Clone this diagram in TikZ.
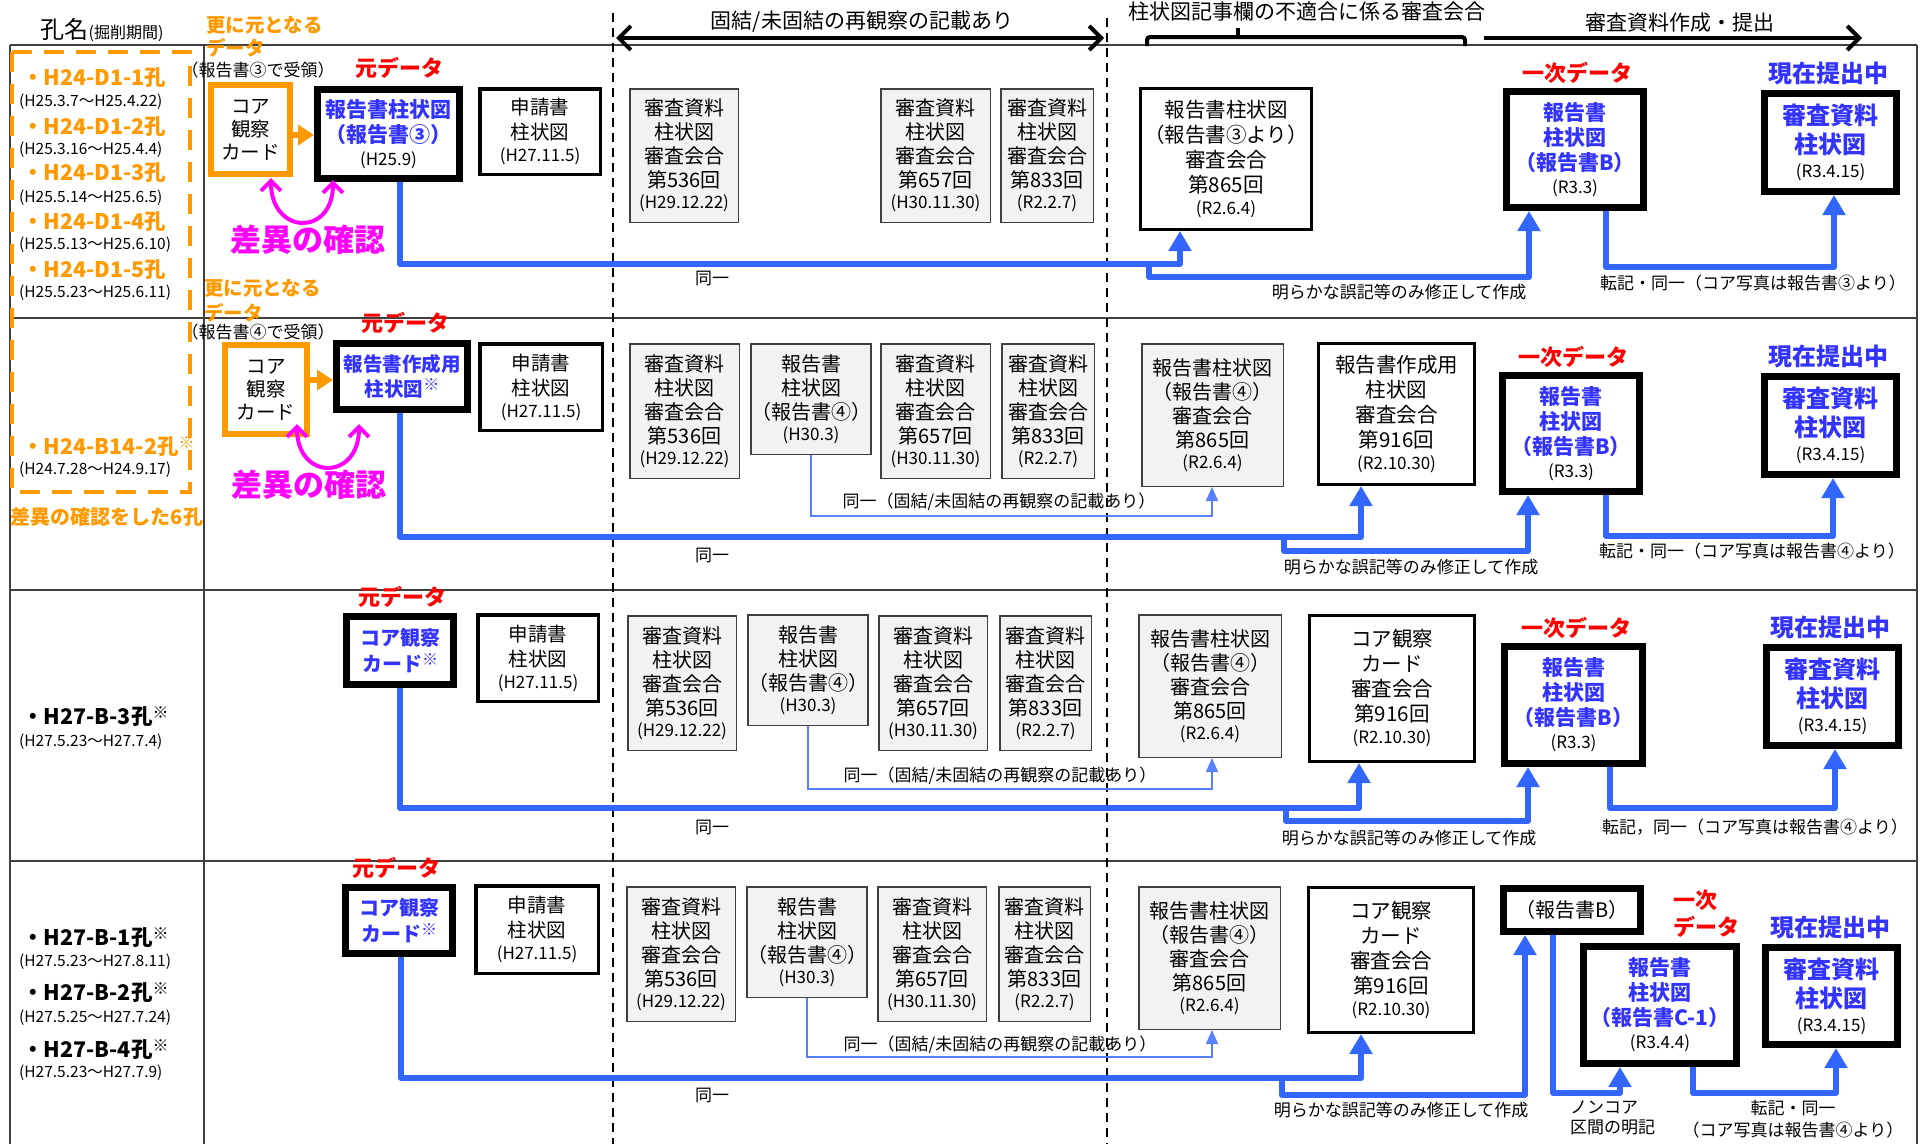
\documentclass[tikz,border=0pt]{standalone}
\usepackage{fontspec}
\setmainfont{Noto Sans CJK JP}
\usetikzlibrary{arrows.meta}
\newcommand\myfs[2]{\fontsize{#1}{#2}\selectfont}
\newcommand\dte[1]{{\mdseries\color{black}\myfs{17}{18}#1}}
\newcommand\kome{{\myfs{16}{16}\raisebox{6pt}{※}}}
\definecolor{orng}{HTML}{FF9900}
\definecolor{btxt}{HTML}{3333FF}
\definecolor{bline}{HTML}{3366FF}
\definecolor{thinb}{HTML}{5580FF}
\definecolor{magc}{HTML}{FF00FF}
\definecolor{gfill}{HTML}{F2F2F2}
\definecolor{tline}{HTML}{404040}
\definecolor{redc}{HTML}{FF0000}
\tikzset{
  tbl/.style={draw=tline, line width=1.5pt},
  vdash/.style={draw=black, line width=2pt, dash pattern=on 9pt off 6pt},
  gbox/.style={draw=black!75, line width=1.5pt, fill=gfill, inner sep=0pt, align=center, font=\myfs{20}{24}},
  wbox/.style={draw=black, line width=3pt, fill=white, inner sep=0pt, align=center, font=\myfs{20.5}{25}},
  abox/.style={draw=black, line width=3.5pt, fill=white, inner sep=0pt, align=center, font=\myfs{19.5}{25}},
  kbox/.style={draw=black, line width=7pt, fill=white, inner sep=0pt, align=center, font=\myfs{21}{25}\bfseries, text=btxt},
  cbox/.style={kbox, font=\myfs{24}{29}\bfseries},
  obox/.style={draw=orng, line width=6pt, fill=white, inner sep=0pt, align=center, font=\myfs{19.5}{23}},
  lbl/.style={inner sep=0pt, font=\myfs{17}{20}},
  redl/.style={inner sep=0pt, text=redc, font=\myfs{22}{24}\bfseries},
  curl/.style={inner sep=0pt, text=btxt, font=\myfs{24}{26}\bfseries},
  orl/.style={inner sep=0pt, text=orng, font=\myfs{19.5}{22}\bfseries, anchor=west},
  recv/.style={inner sep=0pt, font=\myfs{17}{18}},
  sai/.style={inner sep=0pt, text=magc, font=\myfs{31}{33}\bfseries},
  hole/.style={inner sep=0pt, font=\myfs{21.5}{24}\bfseries, anchor=west},
  hdate/.style={inner sep=0pt, font=\myfs{15.5}{17}, anchor=west},
  head/.style={inner sep=0pt, font=\myfs{21}{23}},
  blA/.style={draw=bline, line width=6pt, line join=round, -{Triangle[width=22pt,length=20pt]}},
  blT/.style={draw=thinb, line width=1.5pt, -{Triangle[width=12pt,length=14pt]}},
  oarr/.style={draw=orng, line width=6pt, -{Triangle[width=20pt,length=16pt]}},
  magarr/.style={draw=magc, line width=4pt, {Straight Barb[length=10pt,width=20pt]}-{Straight Barb[length=10pt,width=20pt]}},
  harr/.style={draw=black, line width=4pt},
}
\begin{document}
\begin{tikzpicture}[x=1pt,y=-1pt]
\useasboundingbox (0,0) rectangle (1923,1144);
\fill[white] (0,0) rectangle (1923,1144);

% ---------- table ----------
\draw[tbl] (10,45) -- (1917,45);
\draw[tbl] (10,45) -- (10,1144);
\draw[tbl] (1917,45) -- (1917,1144);
\draw[tbl] (204,45) -- (204,1144);
\draw[tbl] (10,318) -- (1917,318);
\draw[tbl] (10,590) -- (1917,590);
\draw[tbl] (10,861) -- (1917,861);
\draw[vdash] (613,13) -- (613,1144);
\draw[vdash] (1107,18) -- (1107,1144);
\draw[orng, line width=4pt, dash pattern=on 20pt off 12pt] (12,52) rectangle (190,492);

% ---------- header ----------
\node[inner sep=0pt] (hname) at (102,30) {{\myfs{24}{26}孔名}{\myfs{16}{18}(掘削期間)}};
\node[head] (h1) at (862,22) {固結/未固結の再観察の記載あり};
\coordinate (a1l) at (616,38);
\coordinate (a1r) at (1104,38);
\draw[harr, {Straight Barb[length=12pt,width=24pt]}-{Straight Barb[length=12pt,width=24pt]}] (a1l) -- (a1r);
\node[head] (h2) at (1307,12) {柱状図記事欄の不適合に係る審査会合};
\draw[harr, rounded corners=3pt] (1147,46) -- (1147,37) -- (1465,37) -- (1465,46);
\draw[harr] (1238,37) -- (1238,28);
\node[head] (h3) at (1680,23) {審査資料作成・提出};
\coordinate (a2l) at (1484,38);
\coordinate (a2r) at (1862,38);
\draw[harr, -{Straight Barb[length=12pt,width=24pt]}] (a2l) -- (a2r);

% ---------- left column ----------
\node[hole, text=orng] (l1) at (22,78) {・H24-D1-1孔};
\node[hdate] (l1d) at (19,102) {(H25.3.7～H25.4.22)};
\node[hole, text=orng] (l2) at (22,127) {・H24-D1-2孔};
\node[hdate] (l2d) at (19,150) {(H25.3.16～H25.4.4)};
\node[hole, text=orng] (l3) at (22,173) {・H24-D1-3孔};
\node[hdate] (l3d) at (19,198) {(H25.5.14～H25.6.5)};
\node[hole, text=orng] (l4) at (22,222) {・H24-D1-4孔};
\node[hdate] (l4d) at (19,245) {(H25.5.13～H25.6.10)};
\node[hole, text=orng] (l5) at (22,270) {・H24-D1-5孔};
\node[hdate] (l5d) at (19,293) {(H25.5.23～H25.6.11)};
\node[hole, text=orng] (l6) at (22,447) {・H24-B14-2孔\kome};
\node[hdate] (l6d) at (19,470) {(H24.7.28～H24.9.17)};
\node[inner sep=0pt, text=orng, font=\myfs{20}{22}\bfseries] (six) at (107,517) {差異の確認をした6孔};
\node[hole] (l7) at (22,717) {・H27-B-3孔\kome};
\node[hdate] (l7d) at (19,742) {(H27.5.23～H27.7.4)};
\node[hole] (l8) at (22,938) {・H27-B-1孔\kome};
\node[hdate] (l8d) at (19,962) {(H27.5.23～H27.8.11)};
\node[hole] (l9) at (22,993) {・H27-B-2孔\kome};
\node[hdate] (l9d) at (19,1018) {(H27.5.25～H27.7.24)};
\node[hole] (l10) at (22,1050) {・H27-B-4孔\kome};
\node[hdate] (l10d) at (19,1073) {(H27.5.23～H27.7.9)};

% ---------- row 1 ----------
\node[orl] (o1a) at (206,25) {更に元となる};
\node[orl] (o1b) at (206,48) {データ};
\node[recv] (rc1) at (258,70) {（報告書③で受領）};
\node[redl] (m1) at (399,68) {元データ};
\node[obox, minimum width=79pt, minimum height=89pt] (card1) at (250.5,129.5) {コア\\観察\\カード};
\node[kbox, minimum width=142pt, minimum height=89pt] (src1) at (388.5,134) {報告書柱状図\\（報告書③）\\[-2pt]\dte{(H25.9)}};
\node[abox, minimum width=120.5pt, minimum height=85.5pt] (app1) at (540,131.5) {申請書\\柱状図\\[-3pt]\dte{(H27.11.5)}};
\node[gbox, minimum width=108.5pt, minimum height=133.5pt] (g536a) at (684,155.5) {審査資料\\柱状図\\審査会合\\第536回\\[-3pt]\dte{(H29.12.22)}};
\node[gbox, minimum width=109.5pt, minimum height=133.5pt] (g657a) at (935.5,155.5) {審査資料\\柱状図\\審査会合\\第657回\\[-3pt]\dte{(H30.11.30)}};
\node[gbox, minimum width=92.5pt, minimum height=133.5pt] (g833a) at (1047,155.5) {審査資料\\柱状図\\審査会合\\第833回\\[-3pt]\dte{(R2.2.7)}};
\node[wbox, minimum width=171pt, minimum height=141pt] (r865a) at (1226,159) {報告書柱状図\\（報告書③より）\\審査会合\\第865回\\[-3pt]\dte{(R2.6.4)}};
\node[redl] (p1l) at (1577,73) {一次データ};
\node[kbox, minimum width=137pt, minimum height=116pt] (pri1) at (1575,149.5) {報告書\\柱状図\\（報告書B）\\[-2pt]\dte{(R3.3)}};
\node[curl] (c1l) at (1828,73) {現在提出中};
\node[cbox, minimum width=132pt, minimum height=98pt] (cur1) at (1830.5,142.5) {審査資料\\柱状図\\[-5pt]\dte{(R3.4.15)}};
\node[sai] (s1) at (308,240) {差異の確認};

\draw[oarr] (card1.east |- 0,135) -- (src1.west |- 0,135);
\coordinate (mg1a) at (271,178);
\coordinate (mg1b) at (333,180);
\draw[magarr] (mg1a) .. controls +(0,57) and +(0,57) .. (mg1b);

\coordinate (j1) at (1149,264);
\draw[blA] (src1.south -| 400,0) -- (400,264) -| (r865a.south -| 1180,0);
\draw[blA] (j1) -- (1149,277) -| (pri1.south -| 1529,0);
\draw[blA] (pri1.south -| 1606,0) -- (1606,267) -| (cur1.south -| 1834,0);
\node[lbl] (t1a) at (712,278) {同一};
\node[lbl] (t1b) at (1399,292) {明らかな誤記等のみ修正して作成};
\node[lbl] (t1c) at (1753,283) {転記・同一（コア写真は報告書③より）};

% ---------- row 2 ----------
\node[orl] (o2a) at (204,288) {更に元となる};
\node[orl] (o2b) at (204,313) {データ};
\node[recv] (rc2) at (258,332) {（報告書④で受領）};
\node[redl] (m2) at (405,323) {元データ};
\node[obox, minimum width=82pt, minimum height=89pt] (card2) at (266,389.5) {コア\\観察\\カード};
\node[kbox, font=\myfs{19.5}{25}\bfseries, minimum width=131pt, minimum height=66pt] (src2) at (402,376.5) {報告書作成用\\柱状図\kome};
\node[abox, minimum width=122.5pt, minimum height=86.5pt] (app2) at (541,387) {申請書\\柱状図\\[-3pt]\dte{(H27.11.5)}};
\node[gbox, minimum width=109.5pt, minimum height=134.5pt] (g536b) at (684.5,411) {審査資料\\柱状図\\審査会合\\第536回\\[-3pt]\dte{(H29.12.22)}};
\node[gbox, minimum width=118.5pt, minimum height=110.5pt] (rep2) at (811,399) {報告書\\柱状図\\（報告書④）\\[-3pt]\dte{(H30.3)}};
\node[gbox, minimum width=109.5pt, minimum height=134.5pt] (g657b) at (935.5,411) {審査資料\\柱状図\\審査会合\\第657回\\[-3pt]\dte{(H30.11.30)}};
\node[gbox, minimum width=92.5pt, minimum height=134.5pt] (g833b) at (1048,411) {審査資料\\柱状図\\審査会合\\第833回\\[-3pt]\dte{(R2.2.7)}};
\node[gbox, minimum width=141.5pt, minimum height=142.5pt] (r865b) at (1212.5,415) {報告書柱状図\\（報告書④）\\審査会合\\第865回\\[-3pt]\dte{(R2.6.4)}};
\node[wbox, minimum width=156pt, minimum height=141pt] (r916b) at (1396.5,414) {報告書作成用\\柱状図\\審査会合\\第916回\\[-3pt]\dte{(R2.10.30)}};
\node[redl] (p2l) at (1573,357) {一次データ};
\node[kbox, minimum width=137pt, minimum height=116pt] (pri2) at (1571,433.5) {報告書\\柱状図\\（報告書B）\\[-2pt]\dte{(R3.3)}};
\node[curl] (c2l) at (1828,356) {現在提出中};
\node[cbox, minimum width=132pt, minimum height=98pt] (cur2) at (1830.5,425.5) {審査資料\\柱状図\\[-5pt]\dte{(R3.4.15)}};
\node[sai] (s2) at (309,485) {差異の確認};

\draw[oarr] (card2.east |- 0,380) -- (src2.west |- 0,380);
\coordinate (mg2a) at (297,424);
\coordinate (mg2b) at (359,424);
\draw[magarr] (mg2a) .. controls +(0,57) and +(0,57) .. (mg2b);

\draw[blT] (rep2.south) -- (811,516) -| (r865b.south -| 1212,0);
\node[lbl] (t2t) at (999,502) {同一（固結/未固結の再観察の記載あり）};
\coordinate (j2) at (1284,537);
\draw[blA] (src2.south -| 400,0) -- (400,537) -| (r916b.south -| 1361,0);
\draw[blA] (j2) -- (1284,551) -| (pri2.south -| 1528,0);
\draw[blA] (pri2.south -| 1606,0) -- (1606,536) -| (cur2.south -| 1833,0);
\node[lbl] (t2a) at (712,555) {同一};
\node[lbl] (t2b) at (1411,567) {明らかな誤記等のみ修正して作成};
\node[lbl] (t2c) at (1752,551) {転記・同一（コア写真は報告書④より）};

% ---------- row 3 ----------
\node[redl] (m3) at (402,597) {元データ};
\node[kbox, font=\myfs{20}{26}\bfseries, minimum width=107pt, minimum height=68pt] (src3) at (400,650.5) {コア観察\\カード\kome};
\node[abox, minimum width=120.5pt, minimum height=86.5pt] (app3) at (538,658) {申請書\\柱状図\\[-3pt]\dte{(H27.11.5)}};
\node[gbox, minimum width=108.5pt, minimum height=134.5pt] (g536c) at (682,683) {審査資料\\柱状図\\審査会合\\第536回\\[-3pt]\dte{(H29.12.22)}};
\node[gbox, minimum width=118.5pt, minimum height=110.5pt] (rep3) at (808,670) {報告書\\柱状図\\（報告書④）\\[-3pt]\dte{(H30.3)}};
\node[gbox, minimum width=108.5pt, minimum height=134.5pt] (g657c) at (933,683) {審査資料\\柱状図\\審査会合\\第657回\\[-3pt]\dte{(H30.11.30)}};
\node[gbox, minimum width=91.5pt, minimum height=134.5pt] (g833c) at (1045.5,683) {審査資料\\柱状図\\審査会合\\第833回\\[-3pt]\dte{(R2.2.7)}};
\node[gbox, minimum width=142.5pt, minimum height=142.5pt] (r865c) at (1210,686) {報告書柱状図\\（報告書④）\\審査会合\\第865回\\[-3pt]\dte{(R2.6.4)}};
\node[wbox, minimum width=165pt, minimum height=146pt] (r916c) at (1392,688.5) {コア観察\\カード\\審査会合\\第916回\\[-3pt]\dte{(R2.10.30)}};
\node[redl] (p3l) at (1576,628) {一次データ};
\node[kbox, minimum width=138pt, minimum height=117pt] (pri3) at (1573.5,705) {報告書\\柱状図\\（報告書B）\\[-2pt]\dte{(R3.3)}};
\node[curl] (c3l) at (1830,627) {現在提出中};
\node[cbox, minimum width=132pt, minimum height=98pt] (cur3) at (1832.5,696.5) {審査資料\\柱状図\\[-5pt]\dte{(R3.4.15)}};

\draw[blT] (rep3.south) -- (808,789) -| (r865c.south -| 1212,0);
\node[lbl] (t3t) at (1000,776) {同一（固結/未固結の再観察の記載あり）};
\coordinate (j3) at (1286,808);
\draw[blA] (src3.south) -- (400,808) -| (r916c.south -| 1359,0);
\draw[blA] (j3) -- (1286,821) -| (pri3.south -| 1528,0);
\draw[blA] (pri3.south -| 1610,0) -- (1610,808) -| (cur3.south -| 1835,0);
\node[lbl] (t3a) at (712,827) {同一};
\node[lbl] (t3b) at (1409,838) {明らかな誤記等のみ修正して作成};
\node[lbl] (t3c) at (1755,827) {転記，同一（コア写真は報告書④より）};

% ---------- row 4 ----------
\node[redl] (m4) at (396,868) {元データ};
\node[kbox, font=\myfs{20}{26}\bfseries, minimum width=107pt, minimum height=66pt] (src4) at (399,920.5) {コア観察\\カード\kome};
\node[abox, minimum width=122.5pt, minimum height=87.5pt] (app4) at (537,929.5) {申請書\\柱状図\\[-3pt]\dte{(H27.11.5)}};
\node[gbox, minimum width=108.5pt, minimum height=134.5pt] (g536d) at (681,954) {審査資料\\柱状図\\審査会合\\第536回\\[-3pt]\dte{(H29.12.22)}};
\node[gbox, minimum width=118.5pt, minimum height=110.5pt] (rep4) at (807,942) {報告書\\柱状図\\（報告書④）\\[-3pt]\dte{(H30.3)}};
\node[gbox, minimum width=108.5pt, minimum height=134.5pt] (g657d) at (932,954) {審査資料\\柱状図\\審査会合\\第657回\\[-3pt]\dte{(H30.11.30)}};
\node[gbox, minimum width=91.5pt, minimum height=134.5pt] (g833d) at (1044.5,954) {審査資料\\柱状図\\審査会合\\第833回\\[-3pt]\dte{(R2.2.7)}};
\node[gbox, minimum width=141.5pt, minimum height=142.5pt] (r865d) at (1209.5,958) {報告書柱状図\\（報告書④）\\審査会合\\第865回\\[-3pt]\dte{(R2.6.4)}};
\node[wbox, minimum width=165pt, minimum height=145pt] (r916d) at (1391,960) {コア観察\\カード\\審査会合\\第916回\\[-3pt]\dte{(R2.10.30)}};
\node[kbox, font=\myfs{20}{22}, text=black, minimum width=137pt, minimum height=43pt] (b4) at (1572,910) {（報告書B）};
\node[redl, anchor=west] (p4a) at (1673,900) {一次};
\node[redl, anchor=west] (p4b) at (1673,927) {データ};
\node[kbox, minimum width=153pt, minimum height=117pt] (c14) at (1660,1005) {報告書\\柱状図\\（報告書C-1）\\[-2pt]\dte{(R3.4.4)}};
\node[curl] (c4l) at (1830,927) {現在提出中};
\node[cbox, minimum width=132pt, minimum height=97pt] (cur4) at (1831.5,996) {審査資料\\柱状図\\[-5pt]\dte{(R3.4.15)}};

\draw[blT] (rep4.south) -- (807,1057) -| (r865d.south -| 1212,0);
\node[lbl] (t4t) at (1000,1045) {同一（固結/未固結の再観察の記載あり）};
\coordinate (j4) at (1282,1078);
\draw[blA] (src4.south -| 401,0) -- (401,1078) -| (r916d.south -| 1361,0);
\draw[blA] (j4) -- (1282,1095) -| (b4.south -| 1525,0);
\draw[blA] (b4.south -| 1553,0) -- (1553,1093) -| (c14.south -| 1620,0);
\draw[blA] (c14.south -| 1693,0) -- (1693,1093) -| (cur4.south -| 1836,0);
\node[lbl] (t4a) at (712,1095) {同一};
\node[lbl] (t4b) at (1401,1110) {明らかな誤記等のみ修正して作成};
\node[lbl, anchor=west] (t4n1) at (1570,1107) {ノンコア};
\node[lbl, anchor=west] (t4n2) at (1570,1127) {区間の明記};
\node[lbl] (t4c1) at (1793,1108) {転記・同一};
\node[lbl] (t4c2) at (1793,1130) {（コア写真は報告書④より）};
\end{tikzpicture}
\end{document}
